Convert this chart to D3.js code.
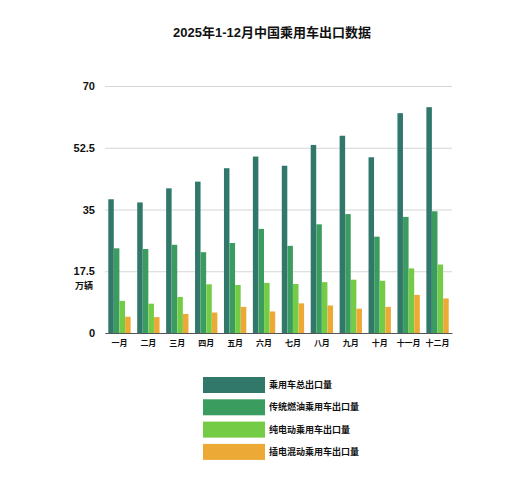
<!DOCTYPE html>
<html>
<head>
<meta charset="utf-8">
<script src="https://cdn.jsdelivr.net/npm/d3@7"></script>
<style>
  body { margin: 0; background: #fff; }
  text { font-family: "Liberation Sans", "Noto Sans CJK SC", sans-serif; }
</style>
</head>
<body>
<div class="chart"></div>
<script>
// 月份
const months = ['一月','二月','三月','四月','五月','六月','七月','八月','九月','十月','十一月','十二月'];
// 系列名称
const series_names = ['乘用车总出口量','传统燃油乘用车出口量','纯电动乘用车出口量','插电混动乘用车出口量'];
// 各系列数值 (万辆)
const total_export = [37.9, 37.0, 41.0, 42.9, 46.7, 50.0, 47.4, 53.3, 55.9, 49.8, 62.3, 64.0];
const fuel_export = [24.0, 23.8, 25.0, 22.9, 25.5, 29.5, 24.7, 30.8, 33.7, 27.3, 32.9, 34.5];
const bev_export = [9.1, 8.3, 10.2, 13.8, 13.6, 14.2, 13.9, 14.4, 15.1, 14.8, 18.3, 19.4];
const phev_export = [4.6, 4.5, 5.4, 5.8, 7.4, 6.1, 8.4, 7.8, 6.9, 7.4, 10.8, 9.8];
// 刻度
const y_ticks = [0, 17.5, 35, 52.5, 70];
const colors = ['#31786a', '#3b9c5f', '#74cb45', '#eca935'];

const all_series = [total_export, fuel_export, bev_export, phev_export];
const data = months.map((m, i) => ({
    month: m,
    values: all_series.map((s, k) => ({key: series_names[k], value: s[i], idx: k}))
}));

const svg_width = 530;
const svg_height = 500;
const chart_margin = {top: 86, right: 78, bottom: 167, left: 105};
const chart_width = svg_width - (chart_margin.left + chart_margin.right);
const chart_height = svg_height - (chart_margin.top + chart_margin.bottom);

const svg = d3.select('.chart').append('svg')
    .attr('width', svg_width)
    .attr('height', svg_height);

// 标题
svg.append('text')
    .attr('x', 272)
    .attr('y', 37)
    .attr('text-anchor', 'middle')
    .style('font-size', '13px')
    .style('font-weight', 'bold')
    .style('fill', '#111')
    .text('2025年1-12月中国乘用车出口数据');

const g = svg.append('g')
    .attr('transform', `translate(${chart_margin.left}, ${chart_margin.top})`);

const y_scale = d3.scaleLinear().domain([0, 70]).range([chart_height, 0]);
const x_scale = d3.scaleBand()
    .domain(months)
    .range([0, chart_width])
    .paddingInner(0.22)
    .paddingOuter(0.11);
const x_inner = d3.scaleBand()
    .domain(series_names)
    .range([0, x_scale.bandwidth()])
    .padding(0.02);

// 网格线
const y_axis = d3.axisLeft(y_scale)
    .tickValues(y_ticks)
    .tickSize(-chart_width)
    .tickFormat(d => d);
const y_axis_draw = g.append('g').attr('class', 'y axis').call(y_axis);
y_axis_draw.select('.domain').remove();
y_axis_draw.selectAll('line').style('stroke', '#d6d6d6').style('stroke-width', 1);
y_axis_draw.selectAll('text')
    .attr('x', -10)
    .style('font-size', '11px')
    .style('font-weight', 'bold')
    .style('fill', '#111');

// 单位
g.append('text')
    .attr('x', -12)
    .attr('y', y_scale(12.5))
    .attr('text-anchor', 'end')
    .style('font-size', '9px')
    .style('font-weight', 'bold')
    .style('fill', '#111')
    .text('万辆');

// 柱子
const groups = g.selectAll('.group')
    .data(data)
    .enter()
    .append('g')
    .attr('class', 'group')
    .attr('transform', d => `translate(${x_scale(d.month)}, 0)`);

groups.selectAll('rect')
    .data(d => d.values)
    .enter()
    .append('rect')
    .attr('x', d => x_inner(d.key))
    .attr('y', d => y_scale(d.value))
    .attr('width', x_inner.bandwidth())
    .attr('height', d => chart_height - y_scale(d.value))
    .style('fill', d => colors[d.idx]);

// x轴
const x_axis = d3.axisBottom(x_scale).tickSize(0).tickPadding(7);
const x_axis_draw = g.append('g')
    .attr('class', 'x axis')
    .attr('transform', `translate(0, ${chart_height})`)
    .call(x_axis);
x_axis_draw.select('.domain').style('stroke', '#555').style('stroke-width', 1);
x_axis_draw.selectAll('text')
    .style('font-size', '8px')
    .style('font-weight', 'bold')
    .style('fill', '#111');

// 图例
const legend = svg.append('g').attr('transform', 'translate(203, 377)');
const legend_items = legend.selectAll('.legend-item')
    .data(series_names)
    .enter()
    .append('g')
    .attr('class', 'legend-item')
    .attr('transform', (d, i) => `translate(0, ${i * 22.3})`);
legend_items.append('rect')
    .attr('width', 62)
    .attr('height', 16)
    .style('fill', (d, i) => colors[i]);
legend_items.append('text')
    .attr('x', 66)
    .attr('y', 8)
    .attr('dy', '0.35em')
    .style('font-size', '9px')
    .style('font-weight', 'bold')
    .style('fill', '#111')
    .text(d => d);
</script>
</body>
</html>
